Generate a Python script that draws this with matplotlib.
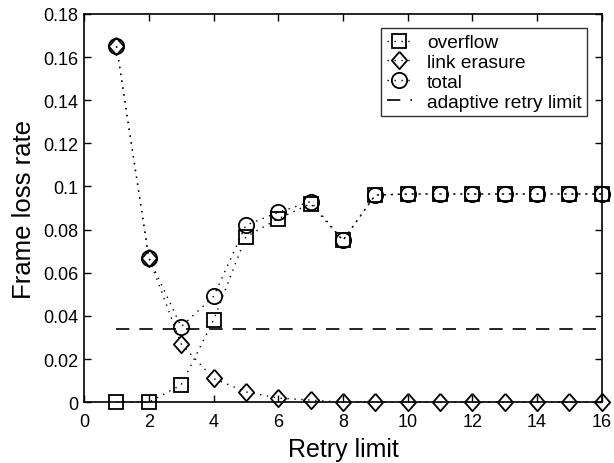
import matplotlib
matplotlib.use("Agg")
import matplotlib.pyplot as plt

plt.rcParams['font.family'] = ['Liberation Sans', 'DejaVu Sans']

# retry limit values
retry = [1, 2, 3, 4, 5, 6, 7, 8, 9, 10, 11, 12, 13, 14, 15, 16]

overflow = [0, 0, 0.008, 0.038, 0.0767, 0.085, 0.092, 0.075,
            0.096, 0.0965, 0.0965, 0.0965, 0.0965, 0.0965, 0.0965, 0.0965]
link_erasure = [0.165, 0.067, 0.027, 0.011, 0.0048, 0.0019, 0.001, 0,
                0, 0, 0, 0, 0, 0, 0, 0]
total = [0.165, 0.067, 0.035, 0.049, 0.082, 0.088, 0.093, 0.075,
         0.096, 0.0965, 0.0965, 0.0965, 0.0965, 0.0965, 0.0965, 0.0965]
adaptive_x = [1, 16]
adaptive_y = [0.034, 0.034]

# slightly tall diamond like the original
diamond = [(0, 1), (0.88, 0), (0, -1), (-0.88, 0), (0, 1)]

fig = plt.figure(figsize=(6.14, 4.64), dpi=100)
ax = fig.add_axes([0.137, 0.131, 0.843, 0.837])

dot = (0, (1, 4))
ax.plot(retry, overflow, marker='s', ls=dot, color='k', mfc='none', ms=9.5, mew=1.3, lw=1,
        clip_on=False, zorder=3, label='overflow')
ax.plot(retry, link_erasure, marker=diamond, ls=dot, color='k', mfc='none', ms=12.5, mew=1.3, lw=1,
        clip_on=False, zorder=3, label='link erasure')
ax.plot(retry, total, marker='o', ls=dot, color='k', mfc='none', ms=11, mew=1.3, lw=1,
        clip_on=False, zorder=3, label='total')
ax.plot(adaptive_x, adaptive_y, '--', color='k', lw=1.2, dashes=(8, 6), label='adaptive retry limit')

ax.set_xlim(0, 16)
ax.set_ylim(0, 0.18)
ax.set_xticks(range(0, 17, 2))
ax.set_yticks([0, 0.02, 0.04, 0.06, 0.08, 0.1, 0.12, 0.14, 0.16, 0.18])
ax.set_yticklabels(['0', '0.02', '0.04', '0.06', '0.08', '0.1', '0.12', '0.14', '0.16', '0.18'])
ax.tick_params(direction='in', top=True, right=True, labelsize=13, length=5, width=1, pad=4)
ax.tick_params(axis='x', pad=8)
for s in ax.spines.values():
    s.set_linewidth(1.2)

ax.set_xlabel('Retry limit', fontsize=18, labelpad=5)
ax.set_ylabel('Frame loss rate', fontsize=18.5, labelpad=5)

leg = ax.legend(loc='upper right', fontsize=13.8, frameon=True, fancybox=False,
                edgecolor='k', handlelength=1.3, borderpad=0.3, labelspacing=0.12,
                handletextpad=0.8, borderaxespad=0.75)
leg.get_frame().set_linewidth(1)

fig.savefig('out.png', dpi=100)
